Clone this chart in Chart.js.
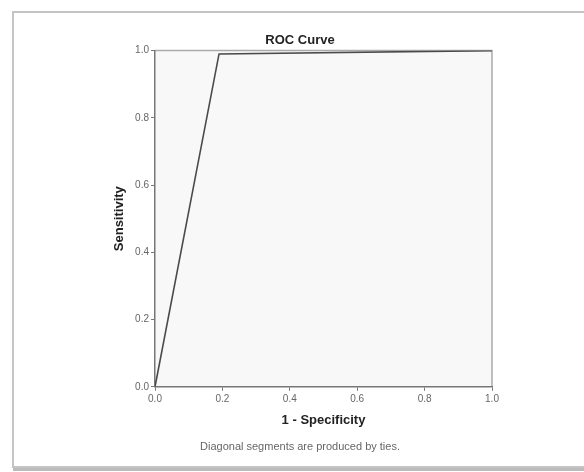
<!DOCTYPE html>
<html>
<head>
<meta charset="utf-8">
<script src="https://cdn.jsdelivr.net/npm/chart.js@4"></script>
<style>
  html, body { margin: 0; padding: 0; background: #fff; }
  #wrap { width: 584px; height: 472px; position: relative; }
</style>
</head>
<body>
<div id="wrap"><canvas id="roc" width="584" height="472"></canvas></div>
<script>
// --- Дані ---
const specValues = [0, 0.19, 1.0];   // 1 - Specificity
const sensValues = [0, 0.99, 1.0];   // Sensitivity
const tickValues = [0.0, 0.2, 0.4, 0.6, 0.8, 1.0];

const points = specValues.map((x, i) => ({ x: x, y: sensValues[i] }));

// рамка сторінки + фон області графіка
const framePlugin = {
  id: "frame",
  beforeDraw(chart) {
    const c = chart.ctx;
    const a = chart.chartArea;
    c.save();
    c.fillStyle = "#fff";
    c.fillRect(0, 0, chart.width, chart.height);
    // тінь знизу
    c.fillStyle = "#bbb";
    c.fillRect(13, 467, 580, 4);
    c.strokeStyle = "#c4c4c4";
    c.lineWidth = 2;
    c.strokeRect(13, 12, 600, 455);
    c.fillStyle = "#f8f8f8";
    c.fillRect(a.left, a.top, a.right - a.left, a.bottom - a.top);
    c.strokeStyle = "#aaa";
    c.lineWidth = 1.5;
    c.beginPath();
    c.moveTo(a.left, a.top);
    c.lineTo(a.right, a.top);
    c.lineTo(a.right, a.bottom);
    c.stroke();
    c.restore();
  }
};

const tickFont = { family: "Liberation Sans", size: 10 };
const titleFont = { family: "Liberation Sans", size: 13, weight: "bold" };

new Chart(document.getElementById("roc").getContext("2d"), {
  type: "scatter",
  data: {
    datasets: [{
      data: points,
      showLine: true,
      borderColor: "#4a4a4a",
      borderWidth: 1.6,
      pointRadius: 0,
      tension: 0,
    }],
  },
  plugins: [framePlugin],
  options: {
    responsive: false,
    animation: false,
    layout: { padding: { left: 108, right: 92, top: 30, bottom: 12 } },
    plugins: {
      legend: { display: false },
      tooltip: { enabled: false },
      title: {
        display: true,
        text: "ROC Curve",
        color: "#222",
        font: titleFont,
        padding: { top: 3, bottom: 2 },
      },
      subtitle: {
        display: true,
        position: "bottom",
        text: "Diagonal segments are produced by ties.",
        color: "#666",
        font: { family: "Liberation Sans", size: 11 },
        padding: { top: 6, bottom: 6 },
      },
    },
    scales: {
      x: {
        type: "linear",
        min: 0,
        max: 1,
        afterBuildTicks: (s) => { s.ticks = tickValues.map((v) => ({ value: v })); },
        afterFit: (s) => { s.height = 48; },
        ticks: {
          color: "#666",
          font: tickFont,
          padding: 2,
          callback: (v) => Number(v).toFixed(1),
        },
        grid: { drawOnChartArea: false, color: "#777", tickLength: 4 },
        border: { color: "#777", width: 1.5 },
        title: {
          display: true,
          text: "1 - Specificity",
          color: "#222",
          font: titleFont,
          padding: { top: 4, bottom: 7 },
        },
      },
      y: {
        type: "linear",
        min: 0,
        max: 1,
        afterBuildTicks: (s) => { s.ticks = tickValues.map((v) => ({ value: v })); },
        afterFit: (s) => { s.width = 47; },
        ticks: {
          color: "#666",
          font: tickFont,
          padding: 2,
          callback: (v) => Number(v).toFixed(1),
        },
        grid: { drawOnChartArea: false, color: "#777", tickLength: 4 },
        border: { color: "#777", width: 1.5 },
        title: {
          display: true,
          text: "Sensitivity",
          color: "#222",
          font: titleFont,
          padding: { top: 4, bottom: 4 },
        },
      },
    },
  },
});
</script>
</body>
</html>
